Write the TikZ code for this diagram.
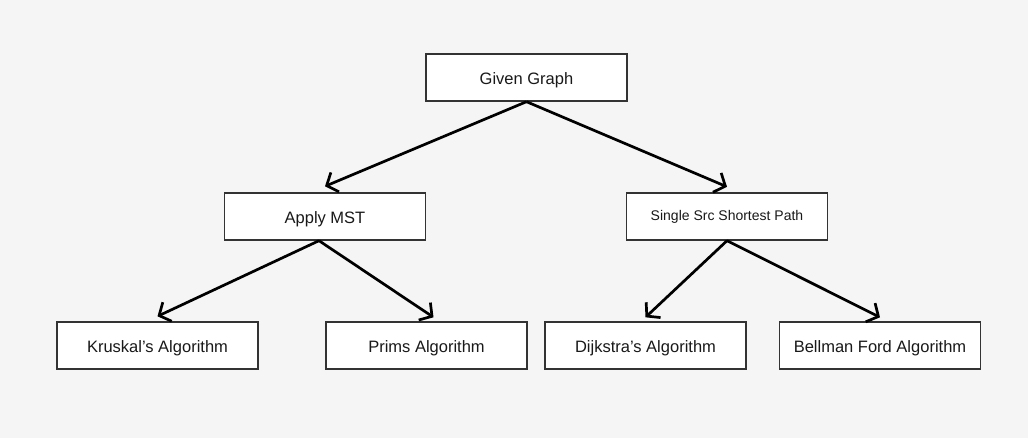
\documentclass[tikz,border=0pt]{standalone}
\usepackage{fontspec}
\setmainfont{Liberation Sans}
\usetikzlibrary{arrows.meta}
\definecolor{figbg}{HTML}{F5F5F5}
\tikzset{
  figbox/.style={draw=black!80, line width=1.4pt, fill=white, minimum width=201pt,
    minimum height=47pt, inner sep=0pt, font=\fontsize{16.5}{20}\selectfont, text=black!90,
    text height=13.8pt, text depth=0pt},
  figsmall/.style={font=\fontsize{14}{17}\selectfont, text height=10pt, text depth=2.5pt},
  figarrow/.style={line width=2.7pt, black,
    -{Straight Barb[length=9pt,width=21pt]}},
}
\begin{document}
\begin{tikzpicture}[x=1pt,y=-1pt]
\fill[figbg] (0,0) rectangle (1028,438);
\useasboundingbox (0,0) rectangle (1028,438);
% boxes
\node[figbox] (given) at (526.5,77.5) {Given Graph};
\node[figbox] (mst) at (325,216.5) {Apply MST};
\node[figbox,figsmall] (sssp) at (727,216.5) {Single Src Shortest Path};
\node[figbox] (krus) at (157.5,345.5) {Kruskal’s Algorithm};
\node[figbox] (prims) at (426.5,345.5) {Prims Algorithm};
\node[figbox] (dijk) at (645.5,345.5) {Dijkstra’s Algorithm};
\node[figbox] (bell) at (880,345.5) {Bellman Ford Algorithm};
% arrows
\draw[figarrow] (given.south) -- ([yshift=6pt]mst.north);
\draw[figarrow] (given.south) -- ([yshift=5.5pt]sssp.north);
\draw[figarrow] ([xshift=-6pt]mst.south) -- ([yshift=5pt]krus.north);
\draw[figarrow] ([xshift=-6pt]mst.south) -- ([xshift=7pt,yshift=4pt]prims.north);
\draw[figarrow] (sssp.south) -- ([yshift=4pt]dijk.north);
\draw[figarrow] (sssp.south) -- ([yshift=4pt]bell.north);
\end{tikzpicture}
\end{document}
